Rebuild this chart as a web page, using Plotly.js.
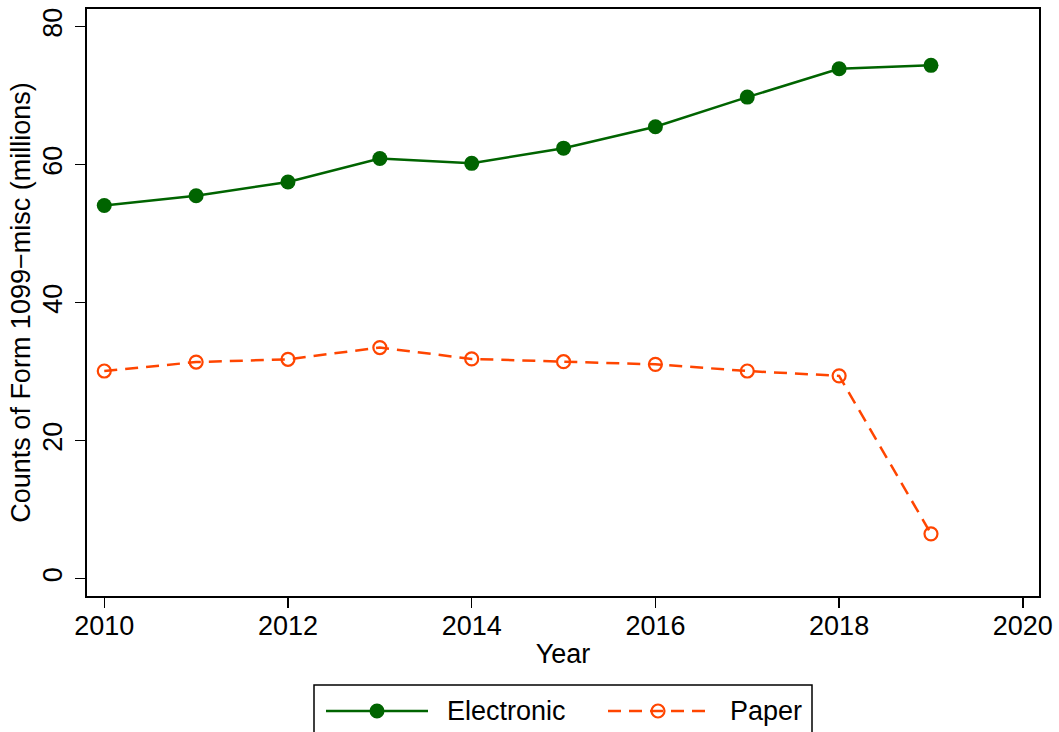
<!DOCTYPE html>
<html>
<head>
<meta charset="utf-8">
<script src="https://cdn.plot.ly/plotly-3.0.1.min.js"></script>
<style>html,body{margin:0;padding:0;background:#fff;}</style>
</head>
<body>
<div id="chart" style="width:1059px;height:732px;"></div>
<script>
// Form 1099-MISC filings by medium, in millions
const years = [2010, 2011, 2012, 2013, 2014, 2015, 2016, 2017, 2018, 2019];
const electronic = [54.1, 55.5, 57.5, 60.9, 60.2, 62.4, 65.5, 69.8, 73.9, 74.4];
const paper = [30.1, 31.4, 31.8, 33.5, 31.85, 31.45, 31.07, 30.1, 29.4, 6.5];
const xTickVals = [2010, 2012, 2014, 2016, 2018, 2020];
const yTickVals = [0, 20, 40, 60, 80];
const seriesNames = ['Electronic', 'Paper'];

const GREEN = '#006400';
const ORANGE = '#FF4500';
const FONT = {family: '"Liberation Sans", Arial, Helvetica, sans-serif', size: 27, color: '#000'};

const W = 1059, H = 732;
const M = {l: 87, r: 20, t: 9, b: 136};
const plotW = W - M.l - M.r, plotH = H - M.t - M.b;
// pixel position -> paper fraction, for the legend drawn below the plot
const px = x => (x - M.l) / plotW;
const py = y => (H - M.b - y) / plotH;

const traces = [
  {
    x: years, y: electronic, name: seriesNames[0], type: 'scatter', mode: 'lines+markers',
    line: {color: GREEN, width: 2.5},
    marker: {color: GREEN, size: 15, symbol: 'circle'}
  },
  {
    x: years, y: paper, name: seriesNames[1], type: 'scatter', mode: 'lines+markers',
    line: {color: ORANGE, width: 2.5, dash: '13px,8px'},
    marker: {color: ORANGE, size: 13, symbol: 'circle-open', line: {width: 2.2, color: ORANGE}}
  }
];

// Legend box with line samples, markers and labels
const legY = 711;
const shapes = [
  {type: 'rect', xref: 'paper', yref: 'paper', x0: px(314), x1: px(812), y0: py(685), y1: py(760),
   line: {color: '#000', width: 1.5}, fillcolor: 'rgba(0,0,0,0)'},
  {type: 'line', xref: 'paper', yref: 'paper', x0: px(326), x1: px(428), y0: py(legY), y1: py(legY),
   line: {color: GREEN, width: 2.5}},
  {type: 'circle', xref: 'paper', yref: 'paper', xsizemode: 'pixel', ysizemode: 'pixel',
   xanchor: px(377), yanchor: py(legY), x0: -7.5, x1: 7.5, y0: -7.5, y1: 7.5,
   fillcolor: GREEN, line: {color: GREEN, width: 0}},
  {type: 'line', xref: 'paper', yref: 'paper', x0: px(608), x1: px(711), y0: py(legY), y1: py(legY),
   line: {color: ORANGE, width: 2.5, dash: '13px,8px'}},
  {type: 'circle', xref: 'paper', yref: 'paper', xsizemode: 'pixel', ysizemode: 'pixel',
   xanchor: px(658), yanchor: py(legY), x0: -6.5, x1: 6.5, y0: -6.5, y1: 6.5,
   fillcolor: 'rgba(0,0,0,0)', line: {color: ORANGE, width: 2.2}}
];
const annotations = [
  {xref: 'paper', yref: 'paper', x: px(445), y: py(legY), xanchor: 'left', yanchor: 'middle',
   text: seriesNames[0], showarrow: false, font: FONT},
  {xref: 'paper', yref: 'paper', x: px(728), y: py(legY), xanchor: 'left', yanchor: 'middle',
   text: seriesNames[1], showarrow: false, font: FONT}
];

const layout = {
  width: W, height: H,
  margin: M,
  paper_bgcolor: '#fff', plot_bgcolor: '#fff',
  font: FONT,
  showlegend: false,
  xaxis: {
    range: [2009.812, 2020.176],
    tickvals: xTickVals, ticktext: xTickVals.map(String),
    ticks: 'outside', ticklen: 10, tickwidth: 1.5, tickcolor: '#000',
    ticklabelstandoff: -5,
    showline: true, linecolor: '#000', linewidth: 2, mirror: true,
    showgrid: false, zeroline: false,
    tickfont: FONT,
    title: {text: 'Year', font: FONT, standoff: 4}
  },
  yaxis: {
    range: [-2.51, 82.57],
    tickvals: yTickVals, ticktext: yTickVals.map(String),
    tickangle: -90,
    ticks: 'outside', ticklen: 10, tickwidth: 1.5, tickcolor: '#000',
    ticklabelstandoff: 2,
    showline: true, linecolor: '#000', linewidth: 2, mirror: true,
    showgrid: false, zeroline: false,
    tickfont: FONT,
    title: {text: 'Counts of Form 1099\u2212misc (millions)', font: FONT, standoff: 0}
  },
  shapes: shapes,
  annotations: annotations
};

Plotly.newPlot('chart', traces, layout, {displayModeBar: false, staticPlot: true});
</script>
</body>
</html>
